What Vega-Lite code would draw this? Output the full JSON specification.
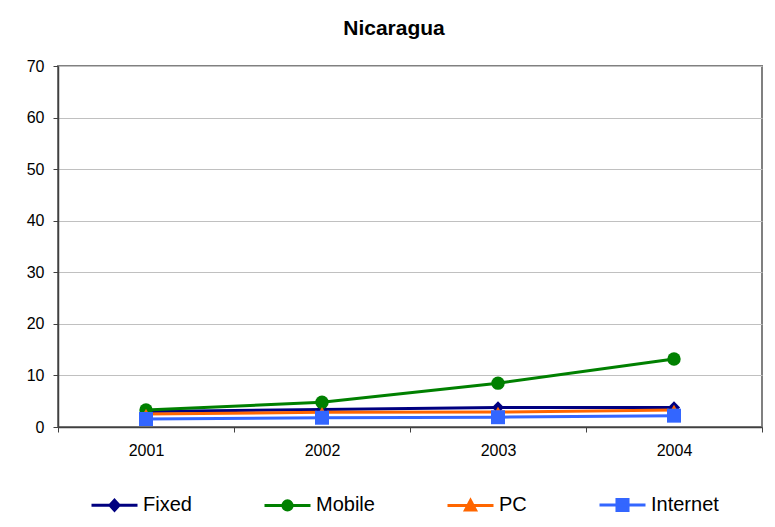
{
  "$schema": "https://vega.github.io/schema/vega-lite/v6.json",
  "autosize": {"type": "none"},
  "padding": {"left": 58, "top": 66, "right": 13, "bottom": 100},
  "width": 704,
  "height": 361,
  "background": "white",
  "title": {
    "text": "Nicaragua",
    "font": "Liberation Sans",
    "fontSize": 21,
    "fontWeight": "bold",
    "color": "black",
    "anchor": "middle",
    "frame": "group",
    "dx": -16,
    "baseline": "alphabetic",
    "offset": 2
  },
  "config": {
    "view": {"stroke": "#808080", "strokeWidth": 2},
    "axis": {
      "labelFont": "Liberation Sans",
      "labelFontSize": 16,
      "labelColor": "black",
      "domainColor": "#404040",
      "domainWidth": 1.5,
      "tickColor": "#404040",
      "tickSize": 5,
      "title": null
    }
  },
  "data": {
    "values": [
      {"year": "2001", "series": "Fixed", "value": 3.0},
      {"year": "2002", "series": "Fixed", "value": 3.4},
      {"year": "2003", "series": "Fixed", "value": 3.8},
      {"year": "2004", "series": "Fixed", "value": 3.8},
      {"year": "2001", "series": "Mobile", "value": 3.3},
      {"year": "2002", "series": "Mobile", "value": 4.8},
      {"year": "2003", "series": "Mobile", "value": 8.5},
      {"year": "2004", "series": "Mobile", "value": 13.2},
      {"year": "2001", "series": "PC", "value": 2.5},
      {"year": "2002", "series": "PC", "value": 2.85},
      {"year": "2003", "series": "PC", "value": 2.9},
      {"year": "2004", "series": "PC", "value": 3.3},
      {"year": "2001", "series": "Internet", "value": 1.55},
      {"year": "2002", "series": "Internet", "value": 1.8},
      {"year": "2003", "series": "Internet", "value": 1.9},
      {"year": "2004", "series": "Internet", "value": 2.2}
    ]
  },
  "encoding": {
    "x": {
      "field": "year",
      "type": "ordinal",
      "scale": {"type": "band", "paddingInner": 0, "paddingOuter": 0},
      "axis": {"labelAngle": 0, "tickBand": "extent", "labelPadding": 10, "grid": false}
    },
    "y": {
      "field": "value",
      "type": "quantitative",
      "scale": {"domain": [0, 70], "nice": false},
      "axis": {
        "values": [0, 10, 20, 30, 40, 50, 60, 70],
        "labelPadding": 9,
        "grid": true,
        "gridColor": "#c0c0c0",
        "gridWidth": 1
      }
    },
    "color": {
      "field": "series",
      "type": "nominal",
      "sort": ["Fixed", "Mobile", "PC", "Internet"],
      "scale": {
        "domain": ["Fixed", "Mobile", "PC", "Internet"],
        "range": ["#000080", "#008000", "#FF6600", "#3366FF"]
      },
      "legend": {
        "title": null,
        "orient": "none",
        "direction": "horizontal",
        "legendX": 32,
        "legendY": 414,
        "padding": 0,
        "columnPadding": 66,
        "labelFont": "Liberation Sans",
        "labelFontSize": 20,
        "labelColor": "black",
        "labelOffset": 4,
        "symbolSize": 2116,
        "symbolStrokeWidth": 3,
        "encode": {
          "symbols": {
            "update": {
              "shape": {"signal": "datum.value === 'Fixed' ? 'M-1,0H1M0,-0.22L0.2,0L0,0.22L-0.2,0Z' : datum.value === 'Mobile' ? 'M-1,0H1M-0.2,0A0.2,0.2,0,1,1,0.2,0A0.2,0.2,0,1,1,-0.2,0Z' : datum.value === 'PC' ? 'M-1,0H1M0,-0.22L0.22,0.2L-0.22,0.2Z' : 'M-1,0H1M-0.24,-0.24H0.24V0.24H-0.24Z'"},
              "size": {"value": 2116},
              "strokeWidth": {"value": 3},
              "opacity": {"value": 1}
            }
          }
        }
      }
    }
  },
  "layer": [
    {
      "mark": {"type": "line", "strokeWidth": 3},
      "encoding": {
        "order": {"field": "year"}
      }
    },
    {
      "transform": [{"filter": "datum.series === 'Fixed'"}],
      "mark": {"type": "point", "filled": true, "opacity": 1, "size": 150, "shape": "diamond"}
    },
    {
      "transform": [{"filter": "datum.series === 'Mobile'"}],
      "mark": {"type": "point", "filled": true, "opacity": 1, "size": 180, "shape": "circle"}
    },
    {
      "transform": [{"filter": "datum.series === 'PC'"}],
      "mark": {"type": "point", "filled": true, "opacity": 1, "size": 150, "shape": "triangle-up"}
    },
    {
      "transform": [{"filter": "datum.series === 'Internet'"}],
      "mark": {"type": "point", "filled": true, "opacity": 1, "size": 196, "shape": "square"}
    }
  ]
}
